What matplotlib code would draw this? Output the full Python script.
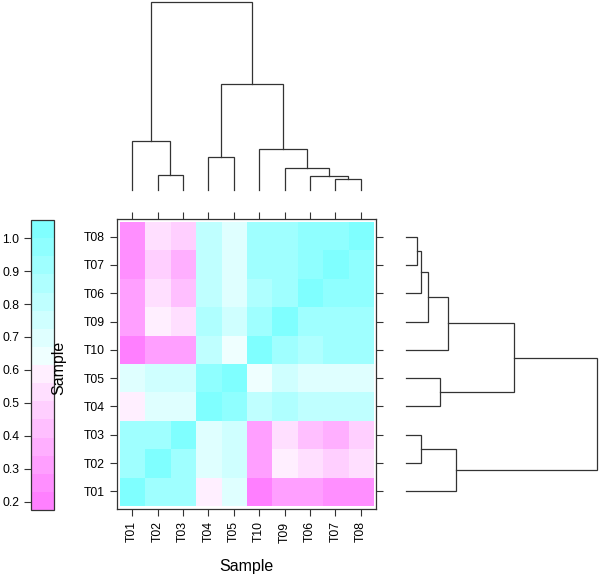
import numpy as np
import matplotlib
matplotlib.use("Agg")
import matplotlib.pyplot as plt
from matplotlib.colors import ListedColormap, BoundaryNorm
from matplotlib.ticker import NullLocator

plt.rcParams["font.family"] = ["Liberation Sans", "DejaVu Sans"]

# samples and the order used by the dendrogram / heatmap
samples = ["T01", "T02", "T03", "T04", "T05", "T06", "T07", "T08", "T09", "T10"]
leaf_order = ["T01", "T02", "T03", "T04", "T05", "T10", "T09", "T06", "T07", "T08"]

# correlation matrix (natural order T01..T10)
corr = np.array([
    # T01   T02   T03   T04   T05   T06   T07   T08   T09   T10
    [1.00, 0.92, 0.93, 0.59, 0.70, 0.31, 0.26, 0.26, 0.31, 0.20],  # T01
    [0.92, 1.00, 0.94, 0.72, 0.77, 0.53, 0.48, 0.54, 0.59, 0.32],  # T02
    [0.93, 0.94, 1.00, 0.70, 0.75, 0.44, 0.37, 0.47, 0.53, 0.32],  # T03
    [0.59, 0.72, 0.70, 1.00, 0.95, 0.80, 0.83, 0.83, 0.88, 0.78],  # T04
    [0.70, 0.77, 0.75, 0.95, 1.00, 0.70, 0.70, 0.70, 0.75, 0.64],  # T05
    [0.31, 0.53, 0.44, 0.80, 0.70, 1.00, 0.95, 0.95, 0.92, 0.87],  # T06
    [0.26, 0.48, 0.37, 0.83, 0.70, 0.95, 1.00, 0.97, 0.93, 0.92],  # T07
    [0.26, 0.54, 0.47, 0.83, 0.70, 0.95, 0.97, 1.00, 0.94, 0.92],  # T08
    [0.31, 0.59, 0.53, 0.88, 0.75, 0.92, 0.93, 0.94, 1.00, 0.93],  # T09
    [0.20, 0.32, 0.32, 0.78, 0.64, 0.87, 0.92, 0.92, 0.93, 1.00],  # T10
])

# dendrogram merges: (left, right, height relative to root)
merges = [
    ("T07", "T08", 0.059),  # m0
    ("T06", "m0", 0.076),   # m1
    ("T02", "T03", 0.080),  # m2
    ("T09", "m1", 0.115),   # m3
    ("T04", "T05", 0.177),  # m4
    ("T10", "m3", 0.218),   # m5
    ("T01", "m2", 0.262),   # m6
    ("m4", "m5", 0.564),    # m7
    ("m6", "m7", 1.0),      # m8
]

key_ticks = [0.2, 0.3, 0.4, 0.5, 0.6, 0.7, 0.8, 0.9, 1.0]
key_lo, key_hi, n_cuts = 0.175, 1.055, 16

# R's cm.colors(16), reversed: magenta for low, cyan for high
k = n_cuts // 2
s_cyan = np.linspace(0.5, 0.5 / k, k)
s_mag = np.linspace(0, 0.5, k + 1)[1:]
cols = [(1 - s, 1, 1) for s in s_cyan] + [(1, 1 - s, 1) for s in s_mag]
cmap = ListedColormap(cols[::-1])
levels = np.linspace(key_lo, key_hi, n_cuts + 1)
norm = BoundaryNorm(levels, cmap.N)

idx = [samples.index(s) for s in leaf_order]
mat = corr[np.ix_(idx, idx)]

W, H = 600, 577
fig = plt.figure(figsize=(W / 100, H / 100), dpi=100)


def px_axes(x0, y0, x1, y1):
    return fig.add_axes([x0 / W, 1 - y1 / H, (x1 - x0) / W, (y1 - y0) / H])


dark = "#333333"

# heatmap
ax = px_axes(117, 219, 376, 509)
n = len(leaf_order)
ax.imshow(mat, cmap=cmap, norm=norm, origin="lower", aspect="auto",
          interpolation="nearest", extent=(-0.5, n - 0.5, -0.5, n - 0.5))
ax.set_xlim(-0.6, n - 0.4)
ax.set_ylim(-0.62, n - 0.38)
ax.set_xticks(range(n))
ax.set_yticks(range(n))
ax.set_xticklabels(leaf_order, rotation=90, fontsize=8.8)
ax.set_yticklabels(leaf_order, fontsize=8.8)
ax.tick_params(direction="out", length=5, width=0.8, color=dark,
               top=True, right=True, pad=4)
for sp in ax.spines.values():
    sp.set_color(dark)
    sp.set_linewidth(0.9)
ax.set_xlabel("Sample", fontsize=11.5, labelpad=12)

# build node positions for dendrograms
pos = {name: i for i, name in enumerate(leaf_order)}
hgt = {name: 0.0 for name in leaf_order}
segs = []
for i, (a, b, h) in enumerate(merges):
    segs.append((pos[a], hgt[a], pos[b], hgt[b], h))
    pos["m%d" % i] = (pos[a] + pos[b]) / 2
    hgt["m%d" % i] = h

# top dendrogram
axt = px_axes(117, 2, 376, 190)
for xa, ha, xb, hb, h in segs:
    axt.plot([xa, xa, xb, xb], [ha, h, h, hb], color=dark, lw=0.9,
             clip_on=False, solid_joinstyle="miter")
axt.set_xlim(-0.6, n - 0.4)
axt.set_ylim(0, 1)
axt.axis("off")

# right dendrogram
axr = px_axes(406, 219, 597, 509)
for xa, ha, xb, hb, h in segs:
    axr.plot([ha, h, h, hb], [xa, xa, xb, xb], color=dark, lw=0.9,
             clip_on=False, solid_joinstyle="miter")
axr.set_ylim(-0.62, n - 0.38)
axr.set_xlim(0, 1)
axr.axis("off")

# colour key
cax = px_axes(31, 220, 54, 510)
sm = plt.cm.ScalarMappable(norm=norm, cmap=cmap)
cb = fig.colorbar(sm, cax=cax, ticks=key_ticks, drawedges=False)
cb.outline.set_edgecolor(dark)
cb.outline.set_linewidth(0.9)
cax.yaxis.set_minor_locator(NullLocator())
cax.yaxis.set_ticks_position("left")
cax.set_yticklabels(["%.1f" % t for t in key_ticks], fontsize=8.8)
cax.tick_params(direction="out", length=5, width=0.8, color=dark)

fig.text(59 / W, 1 - 368 / H, "Sample", rotation=90, fontsize=11.5,
         ha="center", va="center")

fig.savefig("out.png", dpi=100)
